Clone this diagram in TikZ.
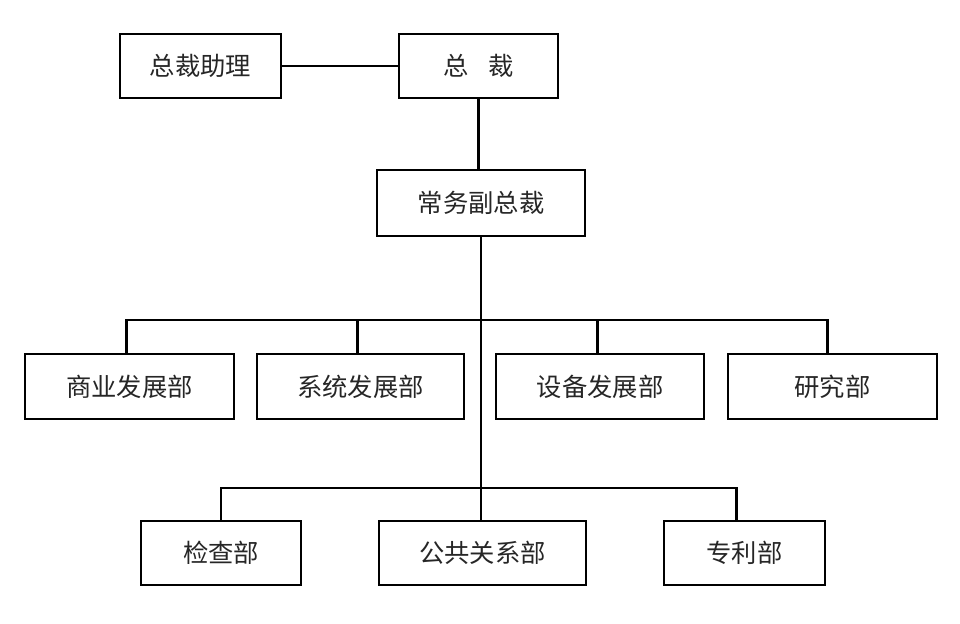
\documentclass[tikz,border=0pt]{standalone}
\usepackage{fontspec}
\newfontfamily\cjk{Noto Sans CJK SC}
\usetikzlibrary{calc,positioning}

\begin{document}
\begin{tikzpicture}[x=0.75pt,y=-0.75pt,
  box/.style={draw, line width=1.6pt, inner sep=0pt, minimum height=48.5pt,
    text=black!85, font=\cjk\fontsize{19}{19}\selectfont},
  link/.style={line width=2.1pt},
  thinlink/.style={line width=0.8pt}]
  \useasboundingbox (0,0) rectangle (960,624);
  % top
  \node[box, minimum width=120.75pt] (zcAide) at (200.5,66) {总裁助理};
  \node[box, minimum width=119.25pt] (zc) at (478.5,66) {总\hspace{0.8em}裁};
  \node[box, minimum width=156pt, minimum height=49.5pt] (fzc) at (481,203) {常务副总裁};
  % first row
  \node[box, minimum width=156.75pt] (sy) at (129.5,386.5) {商业发展部};
  \node[box, minimum width=155.25pt] (xt) at (360.5,386.5) {系统发展部};
  \node[box, minimum width=156pt] (sb) at (600,386.5) {设备发展部};
  \node[box, minimum width=156.75pt] (yj) at (832.5,386.5) {研究部};
  % second row
  \node[box, minimum width=120pt] (jc) at (221,553) {检查部};
  \node[box, minimum width=155.25pt] (gg) at (482.5,553) {公共关系部};
  \node[box, minimum width=120.75pt] (zl) at (744.5,553) {专利部};
  \coordinate (busA) at (0,320);
  \coordinate (busB) at (0,488);
  \draw[link] (zcAide.east) -- (zc.west);
  \draw[link] (zc.south) -- (zc.south |- fzc.north);
  \draw[thinlink] (fzc.south) -- (fzc.south |- gg.north);
  \draw[link] ([xshift=-2pt]sy.north) -- ([xshift=-2pt]sy.north |- busA)
    -- ([xshift=-4pt]yj.north |- busA) -- ([xshift=-4pt]yj.north);
  \foreach \n in {xt,sb}
    \draw[link] ([xshift=-2pt]\n.north |- busA) -- ([xshift=-2pt]\n.north);
  \draw[link] (jc.north) -- (jc.north |- busB)
    -- ([xshift=-6pt]zl.north |- busB) -- ([xshift=-6pt]zl.north);
\end{tikzpicture}
\end{document}
